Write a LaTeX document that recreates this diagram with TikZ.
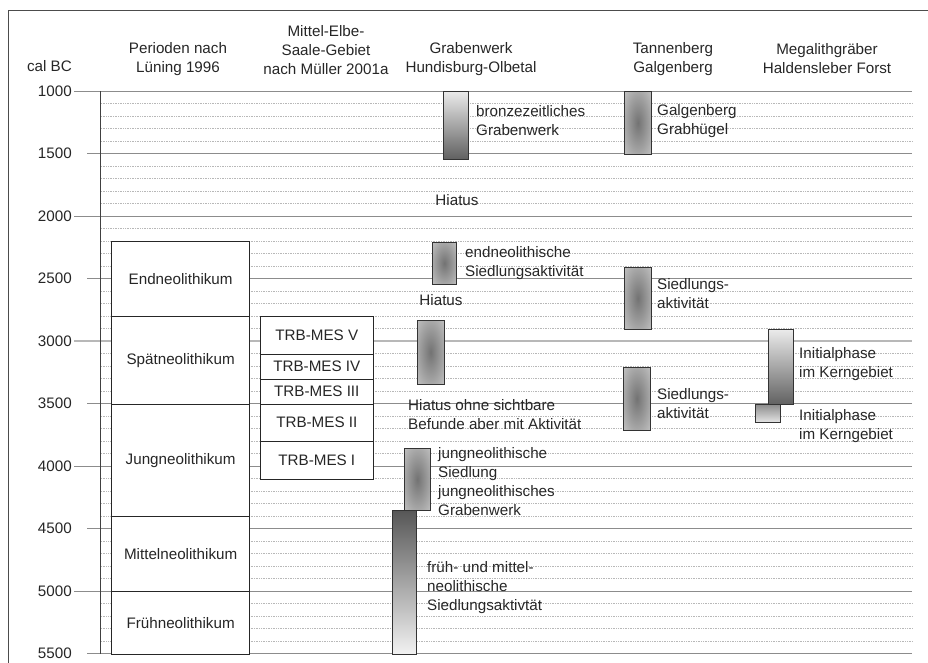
\documentclass[tikz,border=0pt]{standalone}
\usepackage{fontspec}
\setmainfont{Liberation Sans}
\usepackage{xcolor}
\usepackage{tikz}
\usetikzlibrary{shadings}

\pgfdeclareradialshading{glow}{\pgfpointorigin}{color(0bp)=(black!55); color(20bp)=(black!38); color(50bp)=(black!12); color(75bp)=(black!5)}

\begin{document}
\begin{tikzpicture}[
    x=1pt, y=-1pt,
    font=\fontsize{15.2}{19}\selectfont,
    txt/.style={text=black!85, inner sep=0pt},
    head/.style={txt, align=center},
    note/.style={txt, align=left, anchor=west},
    yearlbl/.style={txt, anchor=east},
    period/.style={rectangle, draw=black!85, fill=white, line width=0.7pt, inner sep=0pt, anchor=north west, minimum width=138pt, text=black!85},
    phase/.style={period, minimum width=113.5pt},
    bar/.style={rectangle, draw=black!80, line width=0.7pt, inner sep=0pt, anchor=north west},
    barup/.style={bar, top color=black!8, bottom color=black!62},
    bardown/.style={bar, top color=black!66, bottom color=black!5},
    barglow/.style={bar, shade, shading=glow},
    grid/.style={draw=black!45, line width=0.6pt},
    minor/.style={draw=black!28, line width=0.45pt, dash pattern=on 0.7pt off 1pt}
]
    \useasboundingbox (0,0) rectangle (928,662);

    % Frame
    \draw[black!70, line width=0.8pt] (8.3,700) |- (960,10.3);

    % Header
    \node[yearlbl] (calbc) at (72,66) {cal BC};
    \node[head] (hluening) at (178,59) {Perioden nach\\Lüning 1996};
    \node[head] (hmueller) at (326,50) {Mittel-Elbe-\\Saale-Gebiet\\nach Müller 2001a};
    \node[head] (hgraben) at (471,59) {Grabenwerk\\Hundisburg-Olbetal};
    \node[head] (htannen) at (673,59) {Tannenberg\\Galgenberg};
    \node[head] (hmega) at (827,59) {Megalithgräber\\Haldensleber Forst};

    % Time grid (100 years dotted, 500 years solid)
    \foreach \k in {0,...,8}
        \foreach \j in {1,...,4}
            \draw[minor] (101,{91+62.5*\k+12.5*\j}) -- (912,{91+62.5*\k+12.5*\j});
    \foreach \k in {0,...,9} {
        \pgfmathtruncatemacro\yr{1000+500*\k}
        \ifodd\k \def\xs{87}\else \def\xs{74}\fi
        \draw[grid] (\xs,{91+62.5*\k}) -- (912,{91+62.5*\k});
        \node[yearlbl] (y\yr) at (72,{91+62.5*\k}) {\yr};
    }
    \draw[draw=black!28, line width=1.6pt] (74,341) -- (912,341);
    \draw[black!75, line width=0.7pt] (100.3,91) -- (100.3,654);

    % Periods after Lüning 1996
    \node[period, minimum height=75pt] (endneo) at (111.3,241) {Endneolithikum};
    \node[period, minimum height=87.5pt] (spaetneo) at (111.3,316) {Spätneolithikum};
    \node[period, minimum height=112.5pt] (jungneo) at (111.3,403.5) {Jungneolithikum};
    \node[period, minimum height=75pt] (mittelneo) at (111.3,516) {Mittelneolithikum};
    \node[period, minimum height=62.5pt] (fruehneo) at (111.3,591) {Frühneolithikum};

    % TRB-MES phases after Müller 2001a
    \node[phase, minimum height=37.5pt] (mesv) at (259.7,316) {TRB-MES V};
    \node[phase, minimum height=25pt] (mesiv) at (259.7,353.5) {TRB-MES IV};
    \node[phase, minimum height=25pt] (mesiii) at (259.7,378.5) {TRB-MES III};
    \node[phase, minimum height=37.5pt] (mesii) at (259.7,403.5) {TRB-MES II};
    \node[phase, minimum height=37.5pt] (mesi) at (259.7,441) {TRB-MES I};

    % Grabenwerk Hundisburg-Olbetal
    \node[barup, minimum width=25pt, minimum height=67.5pt] (bronze) at (443,91) {};
    \node[note] (lbronze) at (476,121) {bronzezeitliches\\Grabenwerk};
    \node[txt] (hiatusa) at (457,200) {Hiatus};
    \node[barglow, minimum width=24pt, minimum height=42.3pt] (endsied) at (432,241.7) {};
    \node[note] (lendsied) at (465,263) {endneolithische\\Siedlungsaktivität};
    \node[txt] (hiatusb) at (441,300) {Hiatus};
    \node[barglow, minimum width=27pt, minimum height=63.7pt] (spaetbar) at (416.7,320) {};
    \node[note] (lhiatusc) at (408,414.5) {Hiatus ohne sichtbare\\Befunde aber mit Aktivität};
    \node[bardown, minimum width=24.6pt, minimum height=144pt] (fruehbar) at (391.7,510) {};
    \node[barglow, minimum width=26.6pt, minimum height=61.7pt] (jungbar) at (403.7,448.3) {};
    \node[note] (ljung) at (438,481.5) {jungneolithische\\Siedlung\\jungneolithisches\\Grabenwerk};
    \node[note] (lfrueh) at (427,588) {früh- und mittel-\\neolithische\\Siedlungsaktivtät};

    % Tannenberg Galgenberg
    \node[barglow, minimum width=26.4pt, minimum height=63pt] (galgen) at (624.3,91) {};
    \node[note] (lgalgen) at (657,121) {Galgenberg\\Grabhügel};
    \node[barglow, minimum width=26.4pt, minimum height=62.6pt] (sieda) at (624.3,266.7) {};
    \node[note] (lsieda) at (657,294) {Siedlungs-\\aktivität};
    \node[barglow, minimum width=26.4pt, minimum height=63.3pt] (siedb) at (623.3,366.7) {};
    \node[note] (lsiedb) at (657,404) {Siedlungs-\\aktivität};

    % Megalithgräber Haldensleber Forst
    \node[bar, top color=black!45, bottom color=black!10, minimum width=24.7pt, minimum height=18.3pt] (initb) at (755.3,404) {};
    \node[barup, minimum width=25.6pt, minimum height=75pt] (inita) at (767.7,329.3) {};
    \node[note] (linita) at (799,364) {Initialphase\\im Kerngebiet};
    \node[note] (linitb) at (799,426) {Initialphase\\im Kerngebiet};
\end{tikzpicture}
\end{document}
